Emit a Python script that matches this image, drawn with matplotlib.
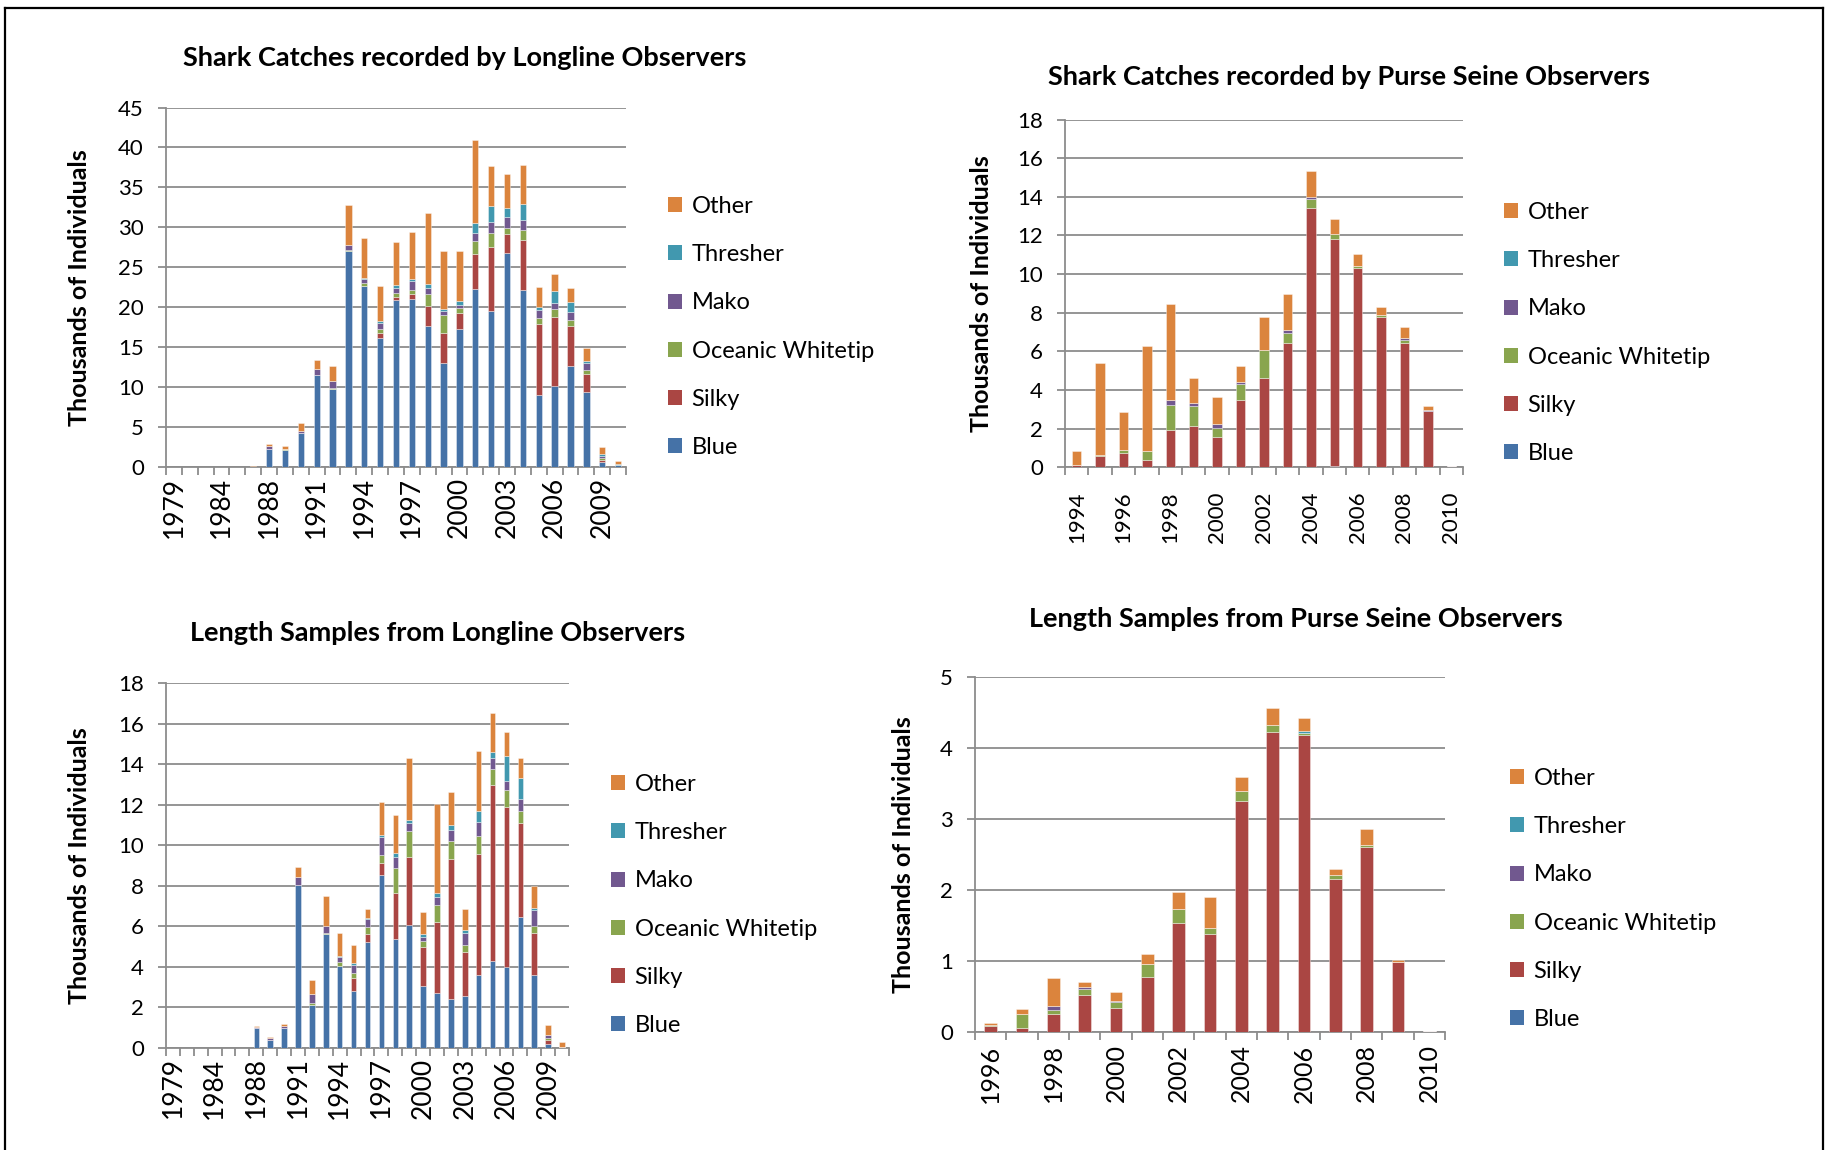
import matplotlib
matplotlib.use("Agg")
import matplotlib.pyplot as plt
from matplotlib.lines import Line2D
import numpy as np

plt.rcParams['font.family'] = ['Lato', 'DejaVu Sans']

# ---------------- data ----------------
species = ['Blue', 'Silky', 'Oceanic Whitetip', 'Mako', 'Thresher', 'Other']
colors = ['#4572A7', '#AA4643', '#89A54E', '#71588F', '#4198AF', '#DB843D']

ll_years = ['1979', '1980', '1982', '1984', '1985', '1987'] + [str(y) for y in range(1988, 2011)]

ll_catch_blue = [0, 0, 0, 0, 0, 0, 2.25, 2.2, 4.3, 11.55, 9.8, 27.08, 22.73, 16.2, 20.89, 21.0, 17.66, 13.1,
                 17.25, 22.35, 19.6, 26.8, 22.18, 9.0, 10.17, 12.73, 9.46, 0.71, 0.33]
ll_catch_silky = [0, 0, 0, 0, 0, 0, 0.05, 0, 0, 0, 0, 0, 0, 0.63, 0.37, 0.64, 2.56, 3.73,
                  2.05, 4.27, 7.9, 2.33, 6.24, 8.87, 8.67, 4.97, 2.22, 0.25, 0]
ll_catch_ow = [0, 0, 0, 0, 0, 0, 0, 0.1, 0, 0, 0.12, 0.12, 0.3, 0.5, 0.54, 0.55, 1.42, 2.22,
               0.58, 1.72, 1.8, 0.84, 1.3, 0.8, 0.92, 0.76, 0.5, 0.21, 0]
ll_catch_mako = [0, 0, 0, 0, 0, 0, 0.35, 0, 0.3, 0.75, 0.84, 0.6, 0.48, 0.67, 0.6, 1.08, 0.84, 0.55,
                 0.38, 0.92, 1.34, 1.3, 1.25, 0.96, 0.79, 1.0, 0.88, 0.21, 0]
ll_catch_thresher = [0, 0, 0, 0, 0, 0, 0, 0, 0, 0, 0, 0, 0.12, 0.33, 0.37, 0.3, 0.42, 0.2,
                     0.54, 1.24, 2.09, 1.17, 1.93, 0.42, 1.45, 1.18, 0.21, 0.34, 0.09]
ll_catch_other = [0, 0, 0, 0, 0, 0.12, 0.25, 0.4, 0.97, 1.18, 1.88, 5.0, 5.0, 4.37, 5.36, 5.86, 8.9, 7.24,
                  6.2, 10.4, 4.99, 4.23, 4.94, 2.55, 2.15, 1.84, 1.72, 0.83, 0.42]

ps_catch_years = [str(y) for y in range(1994, 2011)]
ps_catch_blue = [0, 0, 0, 0, 0, 0, 0, 0, 0, 0, 0, 0.05, 0, 0, 0, 0, 0]
ps_catch_silky = [0.14, 0.57, 0.73, 0.4, 1.96, 2.13, 1.56, 3.48, 4.62, 6.44, 13.4, 11.79, 10.33, 7.79, 6.44, 2.92, 0.05]
ps_catch_ow = [0, 0.07, 0.17, 0.47, 1.29, 1.04, 0.48, 0.85, 1.44, 0.52, 0.5, 0.26, 0.09, 0.12, 0.17, 0, 0]
ps_catch_mako = [0, 0, 0, 0, 0.23, 0.14, 0.21, 0.07, 0, 0.15, 0.1, 0, 0, 0, 0.07, 0.06, 0]
ps_catch_thresher = [0, 0, 0, 0, 0, 0, 0, 0, 0.03, 0, 0, 0, 0, 0, 0, 0, 0]
ps_catch_other = [0.73, 4.76, 1.96, 5.41, 4.95, 1.31, 1.40, 0.84, 1.71, 1.86, 1.33, 0.74, 0.6, 0.38, 0.61, 0.2, 0.03]

ll_len_blue = [0, 0, 0, 0, 0, 0, 0.96, 0.38, 0.96, 8.02, 2.11, 5.6, 4.05, 2.82, 5.24, 8.55, 5.35, 6.04,
               3.05, 2.68, 2.42, 2.55, 3.59, 4.3, 4.0, 6.47, 3.59, 0.18, 0.02]
ll_len_silky = [0, 0, 0, 0, 0, 0, 0, 0, 0, 0, 0, 0, 0, 0.61, 0.36, 0.56, 2.31, 3.4,
                1.91, 3.55, 6.92, 2.19, 5.99, 8.68, 7.91, 4.61, 2.06, 0.2, 0]
ll_len_ow = [0, 0, 0, 0, 0, 0, 0, 0, 0, 0, 0.08, 0.08, 0.17, 0.28, 0.38, 0.41, 1.2, 1.25,
             0.31, 0.82, 0.85, 0.32, 0.86, 0.77, 0.82, 0.6, 0.38, 0.11, 0]
ll_len_mako = [0, 0, 0, 0, 0, 0, 0.08, 0.08, 0.13, 0.43, 0.45, 0.33, 0.28, 0.37, 0.36, 0.87, 0.58, 0.41,
               0.21, 0.41, 0.58, 0.62, 0.73, 0.58, 0.46, 0.62, 0.79, 0.12, 0]
ll_len_thresher = [0, 0, 0, 0, 0, 0, 0, 0, 0, 0, 0, 0, 0.05, 0.09, 0.05, 0.1, 0.19, 0.12,
                   0.14, 0.2, 0.25, 0.15, 0.54, 0.26, 1.2, 1.01, 0.08, 0.03, 0]
ll_len_other = [0, 0, 0, 0, 0, 0, 0.03, 0.08, 0.06, 0.49, 0.7, 1.47, 1.1, 0.92, 0.46, 1.63, 1.85, 3.09,
                1.08, 4.38, 1.63, 1.04, 2.95, 1.93, 1.21, 1.02, 1.09, 0.48, 0.28]

ps_len_years = [str(y) for y in range(1996, 2011)]
ps_len_blue = [0] * 15
ps_len_silky = [0.09, 0.05, 0.26, 0.52, 0.34, 0.78, 1.54, 1.38, 3.25, 4.23, 4.18, 2.16, 2.61, 0.98, 0.02]
ps_len_ow = [0.01, 0.2, 0.05, 0.09, 0.08, 0.18, 0.19, 0.09, 0.15, 0.1, 0.04, 0.05, 0.03, 0, 0]
ps_len_mako = [0, 0, 0.06, 0.02, 0.01, 0, 0.01, 0, 0, 0, 0, 0, 0, 0, 0]
ps_len_thresher = [0, 0, 0, 0, 0, 0, 0, 0, 0, 0, 0.02, 0, 0, 0, 0]
ps_len_other = [0.03, 0.08, 0.39, 0.07, 0.14, 0.14, 0.24, 0.44, 0.2, 0.24, 0.18, 0.09, 0.22, 0.04, 0]

titles = ['Shark Catches recorded by Longline Observers',
          'Shark Catches recorded by Purse Seine Observers',
          'Length Samples from Longline Observers',
          'Length Samples from Purse Seine Observers']
ylabel = 'Thousands of Individuals'

# ---------------- layout ----------------
W, H = 1832, 1150
fig = plt.figure(figsize=(W / 100, H / 100), dpi=100)
fig.patch.set_facecolor('white')

def fx(px):
    return px / W

def fy(py):
    return 1 - py / H

GRID = '#8c8c8c'

panels = [
    dict(box=(166, 626, 107.5, 467.4), cats=ll_years,
         series=[ll_catch_blue, ll_catch_silky, ll_catch_ow, ll_catch_mako, ll_catch_thresher, ll_catch_other],
         ymax=45, ystep=5, lstep=3, title=titles[0], tpos=(465, 58), ylx=91, leg=(668, 327),
         xfs=19, xpad=7),
    dict(box=(1065, 1463, 119.5, 467.4), cats=ps_catch_years,
         series=[ps_catch_blue, ps_catch_silky, ps_catch_ow, ps_catch_mako, ps_catch_thresher, ps_catch_other],
         ymax=18, ystep=2, lstep=2, title=titles[1], tpos=(1349, 77), ylx=993, leg=(1504, 333),
         xfs=16, xpad=17),
    dict(box=(166, 569, 683.2, 1047.7), cats=ll_years,
         series=[ll_len_blue, ll_len_silky, ll_len_ow, ll_len_mako, ll_len_thresher, ll_len_other],
         ymax=18, ystep=2, lstep=3, title=titles[2], tpos=(438, 633), ylx=91, leg=(611, 905),
         xfs=19, xpad=7),
    dict(box=(975, 1445, 677.3, 1032), cats=ps_len_years,
         series=[ps_len_blue, ps_len_silky, ps_len_ow, ps_len_mako, ps_len_thresher, ps_len_other],
         ymax=5, ystep=1, lstep=2, title=titles[3], tpos=(1296, 619), ylx=915, leg=(1510, 899),
         xfs=18, xpad=9),
]

for p in panels:
    l, r, t, b = p['box']
    ax = fig.add_axes([fx(l), fy(b), fx(r) - fx(l), fy(t) - fy(b)])
    n = len(p['cats'])
    x = np.arange(n)
    bottom = np.zeros(n)
    handles = []
    for name, col, vals in zip(species, colors, p['series']):
        v = np.array(vals, dtype=float)
        bc = ax.bar(x, v, width=0.4, bottom=bottom, color=col, label=name,
                    edgecolor=(1, 1, 1, 0.45), linewidth=0.6, zorder=3)
        handles.append(bc)
        bottom += v
    ax.set_xlim(-0.5, n - 0.5)
    ax.set_ylim(0, p['ymax'])
    ax.set_yticks(np.arange(0, p['ymax'] + 0.001, p['ystep']))
    ax.yaxis.grid(True, color=GRID, linewidth=1.3, zorder=0)
    ax.set_axisbelow(True)
    for s in ['top', 'right']:
        ax.spines[s].set_visible(False)
    for s in ['left', 'bottom']:
        ax.spines[s].set_color(GRID)
        ax.spines[s].set_linewidth(1.3)
    ax.tick_params(axis='y', length=6, width=1.3, color=GRID, pad=10, labelsize=16, labelcolor='black')
    idx = list(range(0, n, p['lstep']))
    ax.set_xticks(idx)
    ax.set_xticklabels([p['cats'][i] for i in idx], rotation=90, fontsize=p['xfs'])
    ax.set_xticks(np.arange(-0.5, n, 1.0), minor=True)
    ax.tick_params(axis='x', which='major', length=0, pad=p['xpad'])
    ax.tick_params(axis='x', which='minor', length=6, width=1.3, color=GRID)
    # y label (anchor = right edge of the rotated text)
    ax.set_ylabel(ylabel, fontsize=18, fontweight='bold')
    ax.yaxis.set_label_coords((p['ylx'] - l) / (r - l), 0.5)
    # title
    fig.text(fx(p['tpos'][0]), fy(p['tpos'][1]), p['title'], fontsize=19.5, fontweight='bold',
             ha='center', va='center')
    # legend (reverse order: Other on top)
    lg = ax.legend(handles[::-1], species[::-1], loc='center left',
                   bbox_to_anchor=(fx(p['leg'][0]), fy(p['leg'][1])), bbox_transform=fig.transFigure,
                   frameon=False, fontsize=17, handlelength=0.6, handleheight=0.6,
                   handletextpad=0.4, labelspacing=1.15, borderpad=0, borderaxespad=0)
    for h in lg.legend_handles:
        h.set_edgecolor('none')

# outer border (top, left, right)
for (x0, y0, x1, y1) in [(5, 8, 1823, 8), (5, 8, 5, 1150), (1823, 8, 1823, 1150)]:
    fig.add_artist(Line2D([fx(x0), fx(x1)], [fy(y0), fy(y1)], color='black', linewidth=1.6,
                          transform=fig.transFigure))

fig.savefig('out.png', dpi=100, facecolor='white')
